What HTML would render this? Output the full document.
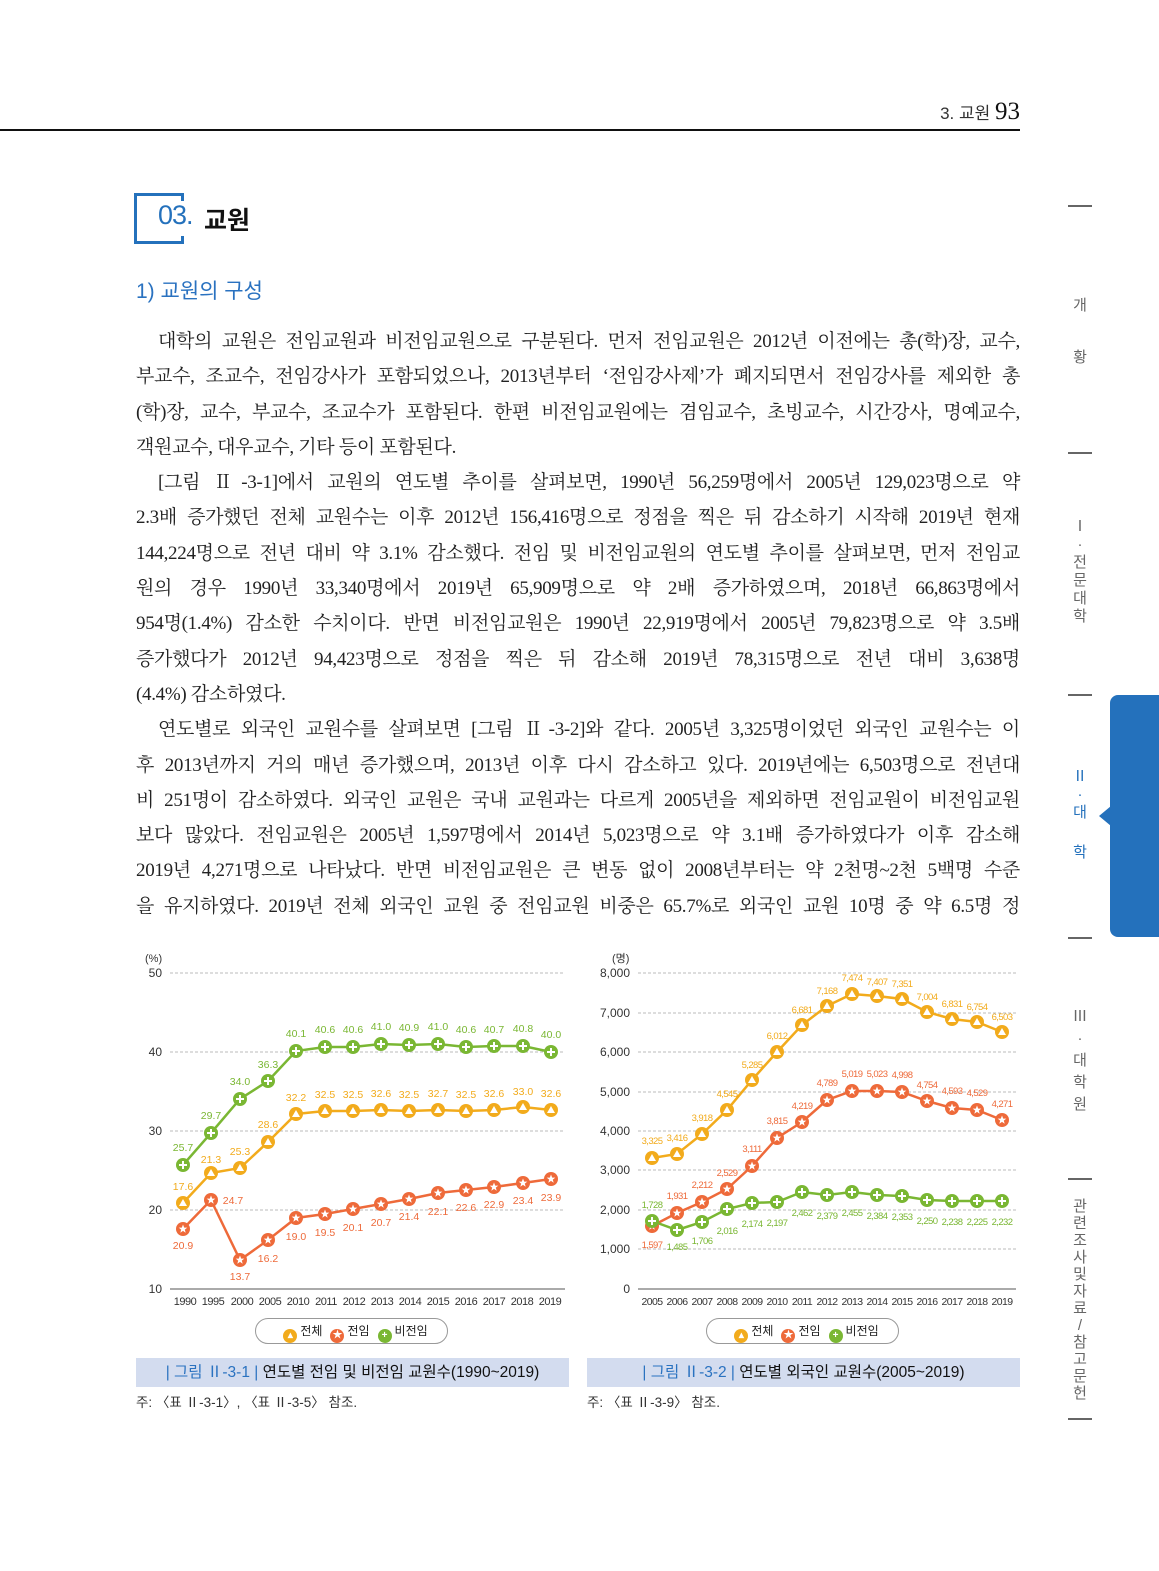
<!DOCTYPE html>
<html><head><meta charset="utf-8">
<style>
*{margin:0;padding:0;box-sizing:border-box}
body{width:1159px;height:1571px;background:#fff;position:relative;overflow:hidden;font-family:"Liberation Sans","Noto Sans CJK KR",sans-serif;color:#222}
.abs{position:absolute}
.body{position:absolute;left:136px;top:324px;width:884px;font-family:"Liberation Serif","Noto Serif CJK KR","Noto Serif CJK SC",serif;font-size:19px;line-height:35.3px;color:#222;letter-spacing:-0.3px}
.body div{white-space:nowrap;text-align:justify;text-align-last:justify;height:35.3px}
.body div.l{text-align-last:left}
.body div.i{padding-left:22px}
.side{position:absolute;left:1068px;width:24px;height:2px;background:#666}
.vt{position:absolute;left:1066px;width:28px;text-align:center;font-size:15px;color:#666;line-height:19px}
.cap{position:absolute;top:1358px;height:29px;background:#d3dcef;font-size:15.5px;text-align:center;line-height:29px;color:#111}
.cap b{color:#2a72c0;font-weight:normal}
.note{position:absolute;top:1391px;font-size:13.5px;color:#333}
.leg{position:absolute;top:1318px;width:193px;height:26px;border:1px solid #999;border-radius:13px;font-size:12px;line-height:24px;text-align:center;color:#222}
.dot{display:inline-block;width:14px;height:14px;border-radius:7px;vertical-align:-3px;margin:0 3px 0 8px;color:#fff;font-size:10px;line-height:14px;font-weight:bold}
</style></head><body>

<div class="abs" style="left:0;top:129px;width:1020px;height:2px;background:#111"></div>
<div class="abs" style="right:139px;top:98px;font-size:17px;color:#333">3. 교원 <span style="font-family:'Liberation Serif',serif;font-size:25px;color:#111">93</span></div>

<div class="abs" style="left:134px;top:193px;width:50px;height:51px;border:3px solid #2471bc;border-right:none"></div>
<div class="abs" style="left:181px;top:193px;width:3px;height:8px;background:#2471bc"></div>
<div class="abs" style="left:181px;top:236px;width:3px;height:8px;background:#2471bc"></div>
<div class="abs" style="left:158px;top:200px;font-size:27px;color:#2471bc;letter-spacing:-1px">03.</div>
<div class="abs" style="left:204px;top:201px;font-size:25px;font-weight:bold;color:#111">교원</div>
<div class="abs" style="left:136px;top:275px;font-size:21px;color:#2a72c0">1) 교원의 구성</div>

<div class="body">
<div class="i">대학의 교원은 전임교원과 비전임교원으로 구분된다. 먼저 전임교원은 2012년 이전에는 총(학)장, 교수,</div>
<div>부교수, 조교수, 전임강사가 포함되었으나, 2013년부터 ‘전임강사제’가 폐지되면서 전임강사를 제외한 총</div>
<div>(학)장, 교수, 부교수, 조교수가 포함된다. 한편 비전임교원에는 겸임교수, 초빙교수, 시간강사, 명예교수,</div>
<div class="l">객원교수, 대우교수, 기타 등이 포함된다.</div>
<div class="i">[그림 Ⅱ-3-1]에서 교원의 연도별 추이를 살펴보면, 1990년 56,259명에서 2005년 129,023명으로 약</div>
<div>2.3배 증가했던 전체 교원수는 이후 2012년 156,416명으로 정점을 찍은 뒤 감소하기 시작해 2019년 현재</div>
<div>144,224명으로 전년 대비 약 3.1% 감소했다. 전임 및 비전임교원의 연도별 추이를 살펴보면, 먼저 전임교</div>
<div>원의 경우 1990년 33,340명에서 2019년 65,909명으로 약 2배 증가하였으며, 2018년 66,863명에서</div>
<div>954명(1.4%) 감소한 수치이다. 반면 비전임교원은 1990년 22,919명에서 2005년 79,823명으로 약 3.5배</div>
<div>증가했다가 2012년 94,423명으로 정점을 찍은 뒤 감소해 2019년 78,315명으로 전년 대비 3,638명</div>
<div class="l">(4.4%) 감소하였다.</div>
<div class="i">연도별로 외국인 교원수를 살펴보면 [그림 Ⅱ-3-2]와 같다. 2005년 3,325명이었던 외국인 교원수는 이</div>
<div>후 2013년까지 거의 매년 증가했으며, 2013년 이후 다시 감소하고 있다. 2019년에는 6,503명으로 전년대</div>
<div>비 251명이 감소하였다. 외국인 교원은 국내 교원과는 다르게 2005년을 제외하면 전임교원이 비전임교원</div>
<div>보다 많았다. 전임교원은 2005년 1,597명에서 2014년 5,023명으로 약 3.1배 증가하였다가 이후 감소해</div>
<div>2019년 4,271명으로 나타났다. 반면 비전임교원은 큰 변동 없이 2008년부터는 약 2천명~2천 5백명 수준</div>
<div>을 유지하였다. 2019년 전체 외국인 교원 중 전임교원 비중은 65.7%로 외국인 교원 10명 중 약 6.5명 정</div>
</div>

<!-- sidebar -->
<div class="side" style="top:205px"></div>
<div class="side" style="top:452px"></div>
<div class="side" style="top:694px"></div>
<div class="side" style="top:937px"></div>
<div class="side" style="top:1178px"></div>
<div class="side" style="top:1418px"></div>
<div class="vt" style="top:296px">개</div>
<div class="vt" style="top:348px">황</div>
<div class="vt" style="top:518px;line-height:18px">Ⅰ<br>·<br>전<br>문<br>대<br>학</div>
<div class="abs" style="left:1110px;top:695px;width:49px;height:242px;background:#2471bc;border-radius:8px 0 0 8px"></div>
<div class="abs" style="left:1099px;top:806px;width:0;height:0;border-top:10px solid transparent;border-bottom:10px solid transparent;border-right:12px solid #2471bc"></div>
<div class="vt" style="top:768px;color:#2471bc;line-height:18px">Ⅱ<br>·<br>대</div>
<div class="vt" style="top:843px;color:#2471bc">학</div>
<div class="vt" style="top:1006px;line-height:22px">Ⅲ<br>·<br>대<br>학<br>원</div>
<div class="vt" style="top:1198px;line-height:17px">관<br>련<br>조<br>사<br>및<br>자<br>료<br>/<br>참<br>고<br>문<br>헌</div>

<svg class="abs" style="left:0;top:0" width="1159" height="1571" font-family="Liberation Sans, Noto Sans CJK KR, sans-serif">
<defs>
<g id="mt"><circle r="7" fill="#f2ab1c"/><path d="M0,-4 L4,3 L-4,3 Z" fill="#fff"/></g>
<g id="mr"><circle r="7" fill="#ee6a3a"/><path d="M0,-4.5 L1.2,-1.4 4.3,-1.4 1.8,0.6 2.7,3.8 0,1.9 -2.7,3.8 -1.8,0.6 -4.3,-1.4 -1.2,-1.4Z" fill="#fff"/></g>
<g id="mg"><circle r="7" fill="#7ab733"/><path d="M-4,0H4M0,-4V4" stroke="#fff" stroke-width="2"/></g>
</defs>
<!-- LEFT CHART -->
<g stroke="#bbb" stroke-dasharray="3,2" stroke-width="1">
<line x1="170" y1="973" x2="565" y2="973"/><line x1="170" y1="1052" x2="565" y2="1052"/><line x1="170" y1="1131" x2="565" y2="1131"/><line x1="170" y1="1210" x2="565" y2="1210"/>
</g>
<line x1="170" y1="1289" x2="565" y2="1289" stroke="#aaa" stroke-width="2"/>
<g font-size="12" fill="#333" text-anchor="end">
<text x="162" y="977">50</text><text x="162" y="1056">40</text><text x="162" y="1135">30</text><text x="162" y="1214">20</text><text x="162" y="1293">10</text>
</g>
<text x="145" y="962" font-size="11" fill="#333">(%)</text>
<g font-size="11" fill="#333" text-anchor="middle" letter-spacing="-0.5">
<text x="185" y="1305">1990</text><text x="213" y="1305">1995</text><text x="242" y="1305">2000</text><text x="270" y="1305">2005</text><text x="298" y="1305">2010</text><text x="326" y="1305">2011</text><text x="354" y="1305">2012</text><text x="382" y="1305">2013</text><text x="410" y="1305">2014</text><text x="438" y="1305">2015</text><text x="466" y="1305">2016</text><text x="494" y="1305">2017</text><text x="522" y="1305">2018</text><text x="550" y="1305">2019</text>
</g>
<g fill="none" stroke-width="2.5">
<polyline stroke="#7ab733" points="183,1165 211,1133 240,1099 268,1081 296,1051 325,1047 353,1047 381,1044 409,1045 438,1044 466,1047 494,1046 523,1046 551,1052"/>
<polyline stroke="#f2ab1c" points="183,1203 211,1173 240,1168 268,1142 296,1114 325,1111 353,1111 381,1110 409,1111 438,1110 466,1111 494,1110 523,1107 551,1110"/>
<polyline stroke="#ee6a3a" points="183,1229 211,1200 240,1260 268,1240 296,1218 325,1214 353,1209 381,1204 409,1199 438,1193 466,1190 494,1187 523,1183 551,1179"/>
</g>
<use href="#mg" x="183" y="1165"/><use href="#mg" x="211" y="1133"/><use href="#mg" x="240" y="1099"/><use href="#mg" x="268" y="1081"/><use href="#mg" x="296" y="1051"/><use href="#mg" x="325" y="1047"/><use href="#mg" x="353" y="1047"/><use href="#mg" x="381" y="1044"/><use href="#mg" x="409" y="1045"/><use href="#mg" x="438" y="1044"/><use href="#mg" x="466" y="1047"/><use href="#mg" x="494" y="1046"/><use href="#mg" x="523" y="1046"/><use href="#mg" x="551" y="1052"/>
<use href="#mt" x="183" y="1203"/><use href="#mt" x="211" y="1173"/><use href="#mt" x="240" y="1168"/><use href="#mt" x="268" y="1142"/><use href="#mt" x="296" y="1114"/><use href="#mt" x="325" y="1111"/><use href="#mt" x="353" y="1111"/><use href="#mt" x="381" y="1110"/><use href="#mt" x="409" y="1111"/><use href="#mt" x="438" y="1110"/><use href="#mt" x="466" y="1111"/><use href="#mt" x="494" y="1110"/><use href="#mt" x="523" y="1107"/><use href="#mt" x="551" y="1110"/>
<use href="#mr" x="183" y="1229"/><use href="#mr" x="211" y="1200"/><use href="#mr" x="240" y="1260"/><use href="#mr" x="268" y="1240"/><use href="#mr" x="296" y="1218"/><use href="#mr" x="325" y="1214"/><use href="#mr" x="353" y="1209"/><use href="#mr" x="381" y="1204"/><use href="#mr" x="409" y="1199"/><use href="#mr" x="438" y="1193"/><use href="#mr" x="466" y="1190"/><use href="#mr" x="494" y="1187"/><use href="#mr" x="523" y="1183"/><use href="#mr" x="551" y="1179"/>
<g font-size="10.5" text-anchor="middle" fill="#7ab733">
<text x="183" y="1151">25.7</text><text x="211" y="1119">29.7</text><text x="240" y="1085">34.0</text><text x="268" y="1068">36.3</text><text x="296" y="1037">40.1</text><text x="325" y="1033">40.6</text><text x="353" y="1033">40.6</text><text x="381" y="1030">41.0</text><text x="409" y="1031">40.9</text><text x="438" y="1030">41.0</text><text x="466" y="1033">40.6</text><text x="494" y="1033">40.7</text><text x="523" y="1032">40.8</text><text x="551" y="1038">40.0</text>
</g>
<g font-size="10.5" text-anchor="middle" fill="#f2ab1c">
<text x="183" y="1190">17.6</text><text x="211" y="1163">21.3</text><text x="240" y="1155">25.3</text><text x="268" y="1128">28.6</text><text x="296" y="1101">32.2</text><text x="325" y="1098">32.5</text><text x="353" y="1098">32.5</text><text x="381" y="1097">32.6</text><text x="409" y="1098">32.5</text><text x="438" y="1097">32.7</text><text x="466" y="1098">32.5</text><text x="494" y="1097">32.6</text><text x="523" y="1095">33.0</text><text x="551" y="1097">32.6</text>
</g>
<g font-size="10.5" text-anchor="middle" fill="#ee6a3a">
<text x="183" y="1249">20.9</text><text x="233" y="1204">24.7</text><text x="240" y="1280">13.7</text><text x="268" y="1262">16.2</text><text x="296" y="1240">19.0</text><text x="325" y="1236">19.5</text><text x="353" y="1231">20.1</text><text x="381" y="1226">20.7</text><text x="409" y="1220">21.4</text><text x="438" y="1215">22.1</text><text x="466" y="1211">22.6</text><text x="494" y="1208">22.9</text><text x="523" y="1204">23.4</text><text x="551" y="1201">23.9</text>
</g>

<!-- RIGHT CHART -->
<g stroke="#bbb" stroke-dasharray="3,2" stroke-width="1">
<line x1="638" y1="973" x2="1016" y2="973"/><line x1="638" y1="1013" x2="1016" y2="1013"/><line x1="638" y1="1052" x2="1016" y2="1052"/><line x1="638" y1="1092" x2="1016" y2="1092"/><line x1="638" y1="1131" x2="1016" y2="1131"/><line x1="638" y1="1170" x2="1016" y2="1170"/><line x1="638" y1="1210" x2="1016" y2="1210"/><line x1="638" y1="1249" x2="1016" y2="1249"/>
</g>
<line x1="638" y1="1289" x2="1016" y2="1289" stroke="#aaa" stroke-width="2"/>
<g font-size="12" fill="#333" text-anchor="end">
<text x="630" y="977">8,000</text><text x="630" y="1017">7,000</text><text x="630" y="1056">6,000</text><text x="630" y="1096">5,000</text><text x="630" y="1135">4,000</text><text x="630" y="1174">3,000</text><text x="630" y="1214">2,000</text><text x="630" y="1253">1,000</text><text x="630" y="1293">0</text>
</g>
<text x="612" y="962" font-size="11" fill="#333">(명)</text>
<g font-size="10.5" fill="#333" text-anchor="middle" letter-spacing="-0.6">
<text x="652" y="1305">2005</text><text x="677" y="1305">2006</text><text x="702" y="1305">2007</text><text x="727" y="1305">2008</text><text x="752" y="1305">2009</text><text x="777" y="1305">2010</text><text x="802" y="1305">2011</text><text x="827" y="1305">2012</text><text x="852" y="1305">2013</text><text x="877" y="1305">2014</text><text x="902" y="1305">2015</text><text x="927" y="1305">2016</text><text x="952" y="1305">2017</text><text x="977" y="1305">2018</text><text x="1002" y="1305">2019</text>
</g>
<g fill="none" stroke-width="2.5">
<polyline stroke="#f2ab1c" points="652,1158 677,1154 702,1134 727,1110 752,1080 777,1052 802,1025 827,1006 852,994 877,996 902,999 927,1012 952,1019 977,1022 1002,1032"/>
<polyline stroke="#ee6a3a" points="652,1226 677,1213 702,1202 727,1189 752,1166 777,1138 802,1122 827,1100 852,1091 877,1091 902,1092 927,1101 952,1108 977,1110 1002,1120"/>
<polyline stroke="#7ab733" points="652,1221 677,1230 702,1222 727,1209 752,1203 777,1202 802,1192 827,1195 852,1192 877,1195 902,1196 927,1200 952,1201 977,1201 1002,1201"/>
</g>
<use href="#mt" x="652" y="1158"/><use href="#mt" x="677" y="1154"/><use href="#mt" x="702" y="1134"/><use href="#mt" x="727" y="1110"/><use href="#mt" x="752" y="1080"/><use href="#mt" x="777" y="1052"/><use href="#mt" x="802" y="1025"/><use href="#mt" x="827" y="1006"/><use href="#mt" x="852" y="994"/><use href="#mt" x="877" y="996"/><use href="#mt" x="902" y="999"/><use href="#mt" x="927" y="1012"/><use href="#mt" x="952" y="1019"/><use href="#mt" x="977" y="1022"/><use href="#mt" x="1002" y="1032"/>
<use href="#mr" x="652" y="1226"/><use href="#mr" x="677" y="1213"/><use href="#mr" x="702" y="1202"/><use href="#mr" x="727" y="1189"/><use href="#mr" x="752" y="1166"/><use href="#mr" x="777" y="1138"/><use href="#mr" x="802" y="1122"/><use href="#mr" x="827" y="1100"/><use href="#mr" x="852" y="1091"/><use href="#mr" x="877" y="1091"/><use href="#mr" x="902" y="1092"/><use href="#mr" x="927" y="1101"/><use href="#mr" x="952" y="1108"/><use href="#mr" x="977" y="1110"/><use href="#mr" x="1002" y="1120"/>
<use href="#mg" x="652" y="1221"/><use href="#mg" x="677" y="1230"/><use href="#mg" x="702" y="1222"/><use href="#mg" x="727" y="1209"/><use href="#mg" x="752" y="1203"/><use href="#mg" x="777" y="1202"/><use href="#mg" x="802" y="1192"/><use href="#mg" x="827" y="1195"/><use href="#mg" x="852" y="1192"/><use href="#mg" x="877" y="1195"/><use href="#mg" x="902" y="1196"/><use href="#mg" x="927" y="1200"/><use href="#mg" x="952" y="1201"/><use href="#mg" x="977" y="1201"/><use href="#mg" x="1002" y="1201"/>
<g font-size="9.5" text-anchor="middle" fill="#f2ab1c" letter-spacing="-0.6">
<text x="652" y="1144">3,325</text><text x="677" y="1141">3,416</text><text x="702" y="1121">3,918</text><text x="727" y="1097">4,545</text><text x="752" y="1068">5,285</text><text x="777" y="1039">6,012</text><text x="802" y="1013">6,681</text><text x="827" y="994">7,168</text><text x="852" y="981">7,474</text><text x="877" y="985">7,407</text><text x="902" y="987">7,351</text><text x="927" y="1000">7,004</text><text x="952" y="1007">6,831</text><text x="977" y="1010">6,754</text><text x="1002" y="1020">6,503</text>
</g>
<g font-size="9.5" text-anchor="middle" fill="#ee6a3a" letter-spacing="-0.6">
<text x="652" y="1248">1,597</text><text x="677" y="1199">1,931</text><text x="702" y="1188">2,212</text><text x="727" y="1176">2,529</text><text x="752" y="1152">3,111</text><text x="777" y="1124">3,815</text><text x="802" y="1109">4,219</text><text x="827" y="1086">4,789</text><text x="852" y="1077">5,019</text><text x="877" y="1077">5,023</text><text x="902" y="1078">4,998</text><text x="927" y="1088">4,754</text><text x="952" y="1094">4,593</text><text x="977" y="1096">4,529</text><text x="1002" y="1107">4,271</text>
</g>
<g font-size="9.5" text-anchor="middle" fill="#7ab733" letter-spacing="-0.6">
<text x="652" y="1208">1,728</text><text x="677" y="1250">1,485</text><text x="702" y="1244">1,706</text><text x="727" y="1234">2,016</text><text x="752" y="1227">2,174</text><text x="777" y="1226">2,197</text><text x="802" y="1216">2,462</text><text x="827" y="1219">2,379</text><text x="852" y="1216">2,455</text><text x="877" y="1219">2,384</text><text x="902" y="1220">2,353</text><text x="927" y="1224">2,250</text><text x="952" y="1225">2,238</text><text x="977" y="1225">2,225</text><text x="1002" y="1225">2,232</text>
</g>
</svg>

<div class="leg" style="left:255px"><span class="dot" style="background:#f2ab1c">▴</span>전체<span class="dot" style="background:#ee6a3a">★</span>전임<span class="dot" style="background:#7ab733">+</span>비전임</div>
<div class="leg" style="left:706px"><span class="dot" style="background:#f2ab1c">▴</span>전체<span class="dot" style="background:#ee6a3a">★</span>전임<span class="dot" style="background:#7ab733">+</span>비전임</div>

<div class="cap" style="left:136px;width:433px"><b>| 그림 Ⅱ-3-1 |</b> 연도별 전임 및 비전임 교원수(1990~2019)</div>
<div class="cap" style="left:587px;width:433px"><b>| 그림 Ⅱ-3-2 |</b> 연도별 외국인 교원수(2005~2019)</div>
<div class="note" style="left:136px">주: 〈표 Ⅱ-3-1〉, 〈표 Ⅱ-3-5〉 참조.</div>
<div class="note" style="left:587px">주: 〈표 Ⅱ-3-9〉 참조.</div>
</body></html>
